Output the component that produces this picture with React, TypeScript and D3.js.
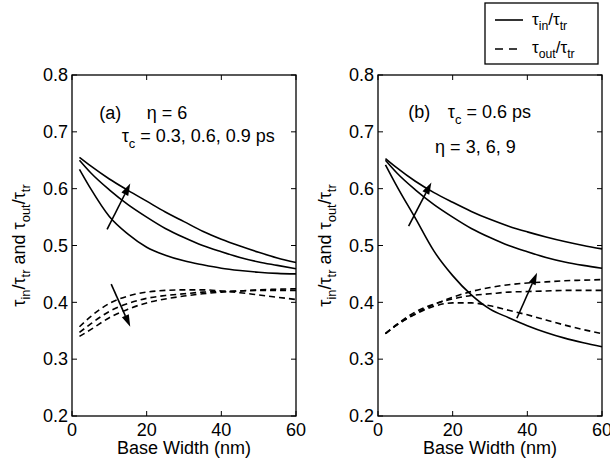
import React from 'react';
import * as d3 from 'd3';

// base width samples (nm)
const widths = [2, 5, 10, 15, 20, 25, 30, 35, 40, 45, 50, 55, 60];

// panel (a): eta = 6, tau_c = 0.3 / 0.6 / 0.9 ps
const aIn03 = [0.634, 0.6, 0.551, 0.52, 0.497, 0.483, 0.473, 0.466, 0.46, 0.456, 0.453, 0.451, 0.45];
const aIn06 = [0.65, 0.628, 0.598, 0.572, 0.55, 0.53, 0.514, 0.5, 0.489, 0.479, 0.471, 0.465, 0.459];
const aIn09 = [0.655, 0.64, 0.617, 0.597, 0.578, 0.559, 0.542, 0.525, 0.511, 0.499, 0.488, 0.478, 0.47];
const aOut03 = [0.357, 0.375, 0.398, 0.411, 0.418, 0.421, 0.422, 0.422, 0.42, 0.417, 0.413, 0.409, 0.405];
const aOut06 = [0.347, 0.362, 0.384, 0.398, 0.407, 0.412, 0.415, 0.418, 0.419, 0.42, 0.421, 0.421, 0.421];
const aOut09 = [0.34, 0.352, 0.373, 0.388, 0.399, 0.406, 0.411, 0.415, 0.418, 0.42, 0.422, 0.423, 0.424];

// panel (b): tau_c = 0.6 ps, eta = 3 / 6 / 9
const bIn3 = [0.642, 0.605, 0.548, 0.49, 0.447, 0.413, 0.388, 0.373, 0.359, 0.347, 0.337, 0.329, 0.322];
const bIn6 = [0.65, 0.628, 0.598, 0.572, 0.55, 0.53, 0.514, 0.5, 0.489, 0.479, 0.471, 0.465, 0.46];
const bIn9 = [0.653, 0.637, 0.613, 0.593, 0.576, 0.56, 0.546, 0.534, 0.524, 0.515, 0.507, 0.5, 0.494];
const bOut3 = [0.345, 0.36, 0.379, 0.393, 0.399, 0.399, 0.394, 0.386, 0.378, 0.369, 0.36, 0.352, 0.345];
const bOut6 = [0.345, 0.361, 0.383, 0.397, 0.406, 0.412, 0.415, 0.418, 0.419, 0.42, 0.421, 0.421, 0.421];
const bOut9 = [0.345, 0.36, 0.38, 0.396, 0.409, 0.419, 0.426, 0.431, 0.434, 0.436, 0.438, 0.439, 0.44];

const xTicks = [0, 20, 40, 60];
const yTicks = [0.2, 0.3, 0.4, 0.5, 0.6, 0.7, 0.8];

const FONT = '"Liberation Sans", Arial, Helvetica, sans-serif';
const FS = 18;

type Part = [string, boolean];

// text with subscripts as tspans
function rich(parts: Part[], fs: number) {
  let shift = 0;
  return parts.map(([t, sub], i) => {
    const target = sub ? fs * 0.3 : 0;
    const dy = target - shift;
    shift = target;
    return (
      <tspan key={i} dy={dy} fontSize={sub ? fs * 0.72 : fs}>
        {t}
      </tspan>
    );
  });
}

const yLabelParts: Part[] = [
  ['τ', false], ['in', true], ['/τ', false], ['tr', true], [' and τ', false],
  ['out', true], ['/τ', false], ['tr', true],
];

type Arrow = { from: [number, number]; to: [number, number] };
type Note = { x: number; y: number; parts: Part[] };

function Panel({ left, ins, outs, arrows, notes }: {
  left: number; ins: number[][]; outs: number[][]; arrows: Arrow[]; notes: Note[];
}) {
  const top = 75, bottom = 416, w = 224;
  const x = d3.scaleLinear().domain([0, 60]).range([left, left + w]);
  const y = d3.scaleLinear().domain([0.2, 0.8]).range([bottom, top]);
  const line = d3.line<number>()
    .x((d, i) => x(widths[i]))
    .y(d => y(d))
    .curve(d3.curveMonotoneX);
  const tl = 5;

  return (
    <g fontFamily={FONT}>
      {ins.map((s, i) => (
        <path key={'i' + i} d={line(s) || ''} fill="none" stroke="#000" strokeWidth={1.6} />
      ))}
      {outs.map((s, i) => (
        <path key={'o' + i} d={line(s) || ''} fill="none" stroke="#000" strokeWidth={1.6} strokeDasharray="6,4" />
      ))}
      {arrows.map((a, i) => {
        const x1 = x(a.from[0]), y1 = y(a.from[1]);
        const x2 = x(a.to[0]), y2 = y(a.to[1]);
        const ang = Math.atan2(y2 - y1, x2 - x1);
        const hl = 12, hw = 3.8;
        const bx = x2 - hl * Math.cos(ang), by = y2 - hl * Math.sin(ang);
        const px = -Math.sin(ang) * hw, py = Math.cos(ang) * hw;
        return (
          <g key={'a' + i}>
            <line x1={x1} y1={y1} x2={bx} y2={by} stroke="#000" strokeWidth={1.6} />
            <polygon points={`${x2},${y2} ${bx + px},${by + py} ${bx - px},${by - py}`} fill="#000" />
          </g>
        );
      })}
      {notes.map((n, i) => (
        <text key={'n' + i} x={x(n.x)} y={y(n.y)} fontSize={FS}>
          {rich(n.parts, FS)}
        </text>
      ))}
      <rect x={left} y={top} width={w} height={bottom - top} fill="none" stroke="#000" strokeWidth={1.3} />
      {xTicks.map(t => (
        <g key={'x' + t}>
          <line x1={x(t)} x2={x(t)} y1={bottom} y2={bottom - tl} stroke="#000" />
          <line x1={x(t)} x2={x(t)} y1={top} y2={top + tl} stroke="#000" />
          <text x={x(t)} y={bottom + 20} fontSize={FS} textAnchor="middle">{t}</text>
        </g>
      ))}
      {yTicks.map(t => (
        <g key={'y' + t}>
          <line x1={left} x2={left + tl} y1={y(t)} y2={y(t)} stroke="#000" />
          <line x1={left + w} x2={left + w - tl} y1={y(t)} y2={y(t)} stroke="#000" />
          <text x={left - 4} y={y(t)} dy="0.35em" fontSize={FS} textAnchor="end">{d3.format('.1f')(t)}</text>
        </g>
      ))}
      <text x={left + w / 2} y={bottom + 38} fontSize={FS} textAnchor="middle">Base Width (nm)</text>
      <text transform={`translate(${left - 47},${(top + bottom) / 2}) rotate(-90)`} fontSize={FS} textAnchor="middle">
        {rich(yLabelParts, FS)}
      </text>
    </g>
  );
}

export default function App() {
  const lfs = 17;
  return (
    <svg width={610} height={466} style={{ position: 'absolute', left: 0, top: 0, background: '#fff' }}>
      <Panel
        left={72}
        ins={[aIn03, aIn06, aIn09]}
        outs={[aOut03, aOut06, aOut09]}
        arrows={[
          { from: [9.4, 0.5285], to: [15.6, 0.609] },
          { from: [10.5, 0.432], to: [15.6, 0.357] },
        ]}
        notes={[
          { x: 7.3, y: 0.7226, parts: [['(a)', false]] },
          { x: 20.0, y: 0.7226, parts: [['η = 6', false]] },
          { x: 13.3, y: 0.6816, parts: [['τ', false], ['c', true], [' = 0.3, 0.6, 0.9 ps', false]] },
        ]}
      />
      <Panel
        left={378}
        ins={[bIn3, bIn6, bIn9]}
        outs={[bOut3, bOut6, bOut9]}
        arrows={[
          { from: [8.2, 0.534], to: [14.3, 0.611] },
          { from: [37.2, 0.372], to: [42.6, 0.452] },
        ]}
        notes={[
          { x: 8.1, y: 0.724, parts: [['(b)', false]] },
          { x: 18.7, y: 0.724, parts: [['τ', false], ['c', true], [' = 0.6 ps', false]] },
          { x: 15.3, y: 0.662, parts: [['η = 3, 6, 9', false]] },
        ]}
      />
      <g fontFamily={FONT}>
        <rect x={485} y={3} width={113} height={61} fill="#fff" stroke="#000" strokeWidth={1.3} />
        <line x1={495} x2={523} y1={20} y2={20} stroke="#000" strokeWidth={1.6} />
        <line x1={495} x2={523} y1={49} y2={49} stroke="#000" strokeWidth={1.6} strokeDasharray="8,6" />
        <text x={532} y={25} fontSize={lfs}>
          {rich([['τ', false], ['in', true], ['/τ', false], ['tr', true]], lfs)}
        </text>
        <text x={532} y={53} fontSize={lfs}>
          {rich([['τ', false], ['out', true], ['/τ', false], ['tr', true]], lfs)}
        </text>
      </g>
    </svg>
  );
}
